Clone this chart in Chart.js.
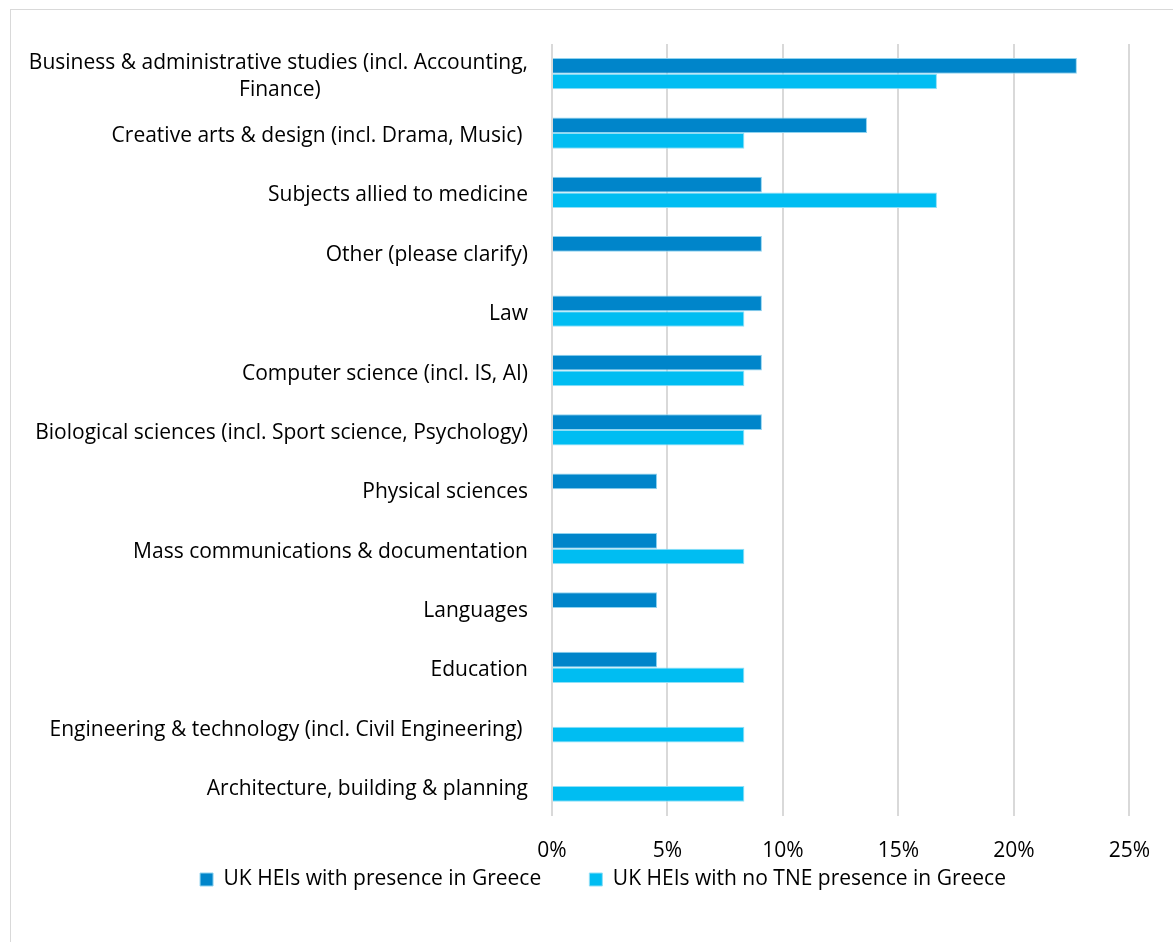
<!DOCTYPE html>
<html>
<head>
<meta charset="utf-8">
<script src="https://cdn.jsdelivr.net/npm/chart.js@4.4.1/dist/chart.umd.min.js"></script>
<style>
  html, body { margin: 0; padding: 0; background: #fff; }
  #wrap { position: relative; width: 1173px; height: 942px; overflow: hidden; }
  #frame { position: absolute; left: 10px; top: 9px; width: 1200px; height: 1000px; border: 1px solid #d9d9d9; box-sizing: border-box; }
  canvas { position: absolute; left: 0; top: 0; }
</style>
</head>
<body>
<div id="wrap">
  <div id="frame"></div>
  <canvas id="chart" width="1173" height="942"></canvas>
</div>
<script>
// Subject areas (top to bottom)
const categories = [
    ['Business & administrative studies (incl. Accounting,', 'Finance)'],
    'Creative arts & design (incl. Drama, Music) ',
    'Subjects allied to medicine',
    'Other (please clarify)',
    'Law',
    'Computer science (incl. IS, AI)',
    'Biological sciences (incl. Sport science, Psychology)',
    'Physical sciences',
    'Mass communications & documentation',
    'Languages',
    'Education',
    'Engineering & technology (incl. Civil Engineering) ',
    'Architecture, building & planning'
];

// % of respondents
const withPresence = [22.73, 13.64, 9.09, 9.09, 9.09, 9.09, 9.09, 4.55, 4.55, 4.55, 4.55, 0, 0];
const noPresence = [16.67, 8.33, 16.67, 0, 8.33, 8.33, 8.33, 0, 8.33, 0, 8.33, 8.33, 8.33];

const xTicks = [0, 5, 10, 15, 20, 25];

const FONT = 'Open Sans';
const FONT_SIZE = 21;

const mctx = document.createElement('canvas').getContext('2d');

// pad shorter lines of a wrapped label so they sit centred under the longest line
function centerLines(label) {
    if (!Array.isArray(label)) return label;
    const widest = Math.max(...label.map(l => mctx.measureText(l).width));
    const space = mctx.measureText(' ').width;
    return label.map(l => {
        const n = Math.round((widest - mctx.measureText(l).width) / 2 / space);
        return l + ' '.repeat(n);
    });
}

// nudge the legend into place (it sits closer to the axis and a bit right in the original)
const legendNudge = {
    id: 'legendNudge',
    afterLayout(chart) {
        const lg = chart.legend;
        lg.top -= 28; lg.bottom -= 28;
        lg.left += 38; lg.right += 38;
    }
};

function buildChart() {
    mctx.font = FONT_SIZE + 'px "' + FONT + '"';
    const gapSpaces = ' '.repeat(Math.round(40 / mctx.measureText(' ').width));
    const ctx = document.getElementById('chart').getContext('2d');
    new Chart(ctx, {
        type: 'bar',
        data: {
            labels: categories.map(centerLines),
            datasets: [
                {
                    label: 'UK HEIs with presence in Greece',
                    data: withPresence,
                    backgroundColor: '#0085ca',
                    borderColor: '#8fd3f0',
                    borderWidth: 1
                },
                {
                    label: 'UK HEIs with no TNE presence in Greece',
                    data: noPresence,
                    backgroundColor: '#00bdf2',
                    borderColor: '#8fe0f7',
                    borderWidth: 1
                }
            ]
        },
        options: {
            indexAxis: 'y',
            responsive: false,
            animation: false,
            layout: { padding: { left: 0, right: 43, top: 44, bottom: 14 } },
            datasets: {
                bar: { barPercentage: 1, categoryPercentage: 0.528 }
            },
            plugins: {
                legend: {
                    position: 'bottom',
                    labels: {
                        boxWidth: 13,
                        boxHeight: 13,
                        padding: 10,
                        color: '#000',
                        font: { family: FONT, size: FONT_SIZE },
                        // widen the first entry so the two items sit apart like the original
                        generateLabels: (chart) => {
                            const items = Chart.defaults.plugins.legend.labels.generateLabels(chart);
                            items[0].text = items[0].text + gapSpaces;
                            return items;
                        }
                    }
                },
                tooltip: { enabled: false }
            },
            scales: {
                x: {
                    min: 0,
                    max: 25,
                    afterBuildTicks: (axis) => { axis.ticks = xTicks.map(v => ({ value: v })); },
                    ticks: {
                        color: '#000',
                        padding: 23,
                        font: { family: FONT, size: FONT_SIZE },
                        callback: (v) => v + '%'
                    },
                    grid: { color: '#d9d9d9', lineWidth: 2, drawTicks: false },
                    border: { display: false }
                },
                y: {
                    afterFit: (axis) => { axis.width = 552; },
                    ticks: {
                        color: '#000',
                        padding: 24,
                        labelOffset: 3,
                        font: { family: FONT, size: FONT_SIZE, lineHeight: 1.3 }
                    },
                    grid: { display: false, drawTicks: false },
                    border: { display: false }
                }
            }
        },
        plugins: [legendNudge]
    });
}

if (document.fonts && document.fonts.load) {
    document.fonts.load(FONT_SIZE + 'px "' + FONT + '"').then(buildChart, buildChart);
} else {
    buildChart();
}
</script>
</body>
</html>
